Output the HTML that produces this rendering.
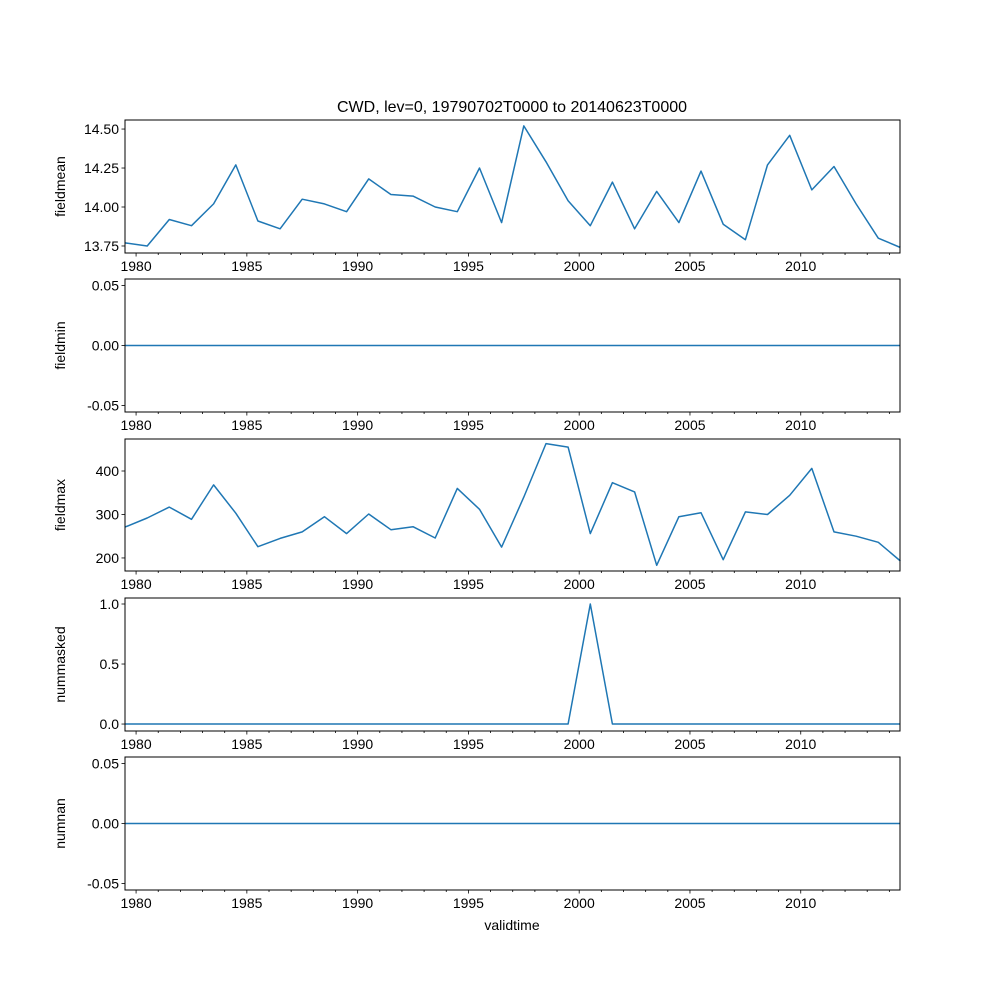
<!DOCTYPE html>
<html><head><meta charset="utf-8"><style>
body{margin:0;background:#fff;}
svg text{font-family:"Liberation Sans","DejaVu Sans",sans-serif;font-size:14px;fill:#000;}
</style></head><body>
<svg id="fig" width="1000" height="1000" viewBox="0 0 1000 1000" xmlns="http://www.w3.org/2000/svg">
<rect width="1000" height="1000" fill="#fff"/>
<text x="512" y="112" text-anchor="middle" style="font-size:16px">CWD, lev=0, 19790702T0000 to 20140623T0000</text>
<text x="512" y="930" text-anchor="middle">validtime</text>
</svg>
<script>
const years = [];
for (let k = 0; k < 36; k++) years.push(1979.5 + k);
const fieldmean = [13.77,13.75,13.92,13.88,14.02,14.27,13.91,13.86,14.05,14.02,13.97,14.18,14.08,14.07,14.00,13.97,14.25,13.90,14.52,14.29,14.04,13.88,14.16,13.86,14.10,13.90,14.23,13.89,13.79,14.27,14.46,14.11,14.26,14.02,13.80,13.74];
const fieldmin = new Array(36).fill(0);
const fieldmax = [271,292,317,289,368,303,226,245,260,295,256,301,265,272,246,360,312,225,340,463,455,256,373,352,183,295,304,196,306,300,344,406,260,250,236,193];
const nummasked = [0,0,0,0,0,0,0,0,0,0,0,0,0,0,0,0,0,0,0,0,0,1,0,0,0,0,0,0,0,0,0,0,0,0,0,0];
const numnan = new Array(36).fill(0);
const xTicks = [1980,1985,1990,1995,2000,2005,2010];
const panels = [
 {name:'fieldmean', data:fieldmean, top:120, bot:253, ymin:13.705, ymax:14.558, ticks:[13.75,14.00,14.25,14.50], fmt:v=>v.toFixed(2)},
 {name:'fieldmin', data:fieldmin, top:279, bot:412, ymin:-0.0555, ymax:0.0555, ticks:[-0.05,0,0.05], fmt:v=>v.toFixed(2)},
 {name:'fieldmax', data:fieldmax, top:439, bot:571, ymin:170, ymax:473.6, ticks:[200,300,400], fmt:v=>String(v)},
 {name:'nummasked', data:nummasked, top:598, bot:731, ymin:-0.058, ymax:1.05, ticks:[0,0.5,1], fmt:v=>v.toFixed(1)},
 {name:'numnan', data:numnan, top:757, bot:890, ymin:-0.0555, ymax:0.0555, ticks:[-0.05,0,0.05], fmt:v=>v.toFixed(2)}
];
const L=125,R=900,X0=1979.5,X1=2014.48;
const NS='http://www.w3.org/2000/svg';
const svg=document.getElementById('fig');
function mk(tag,attrs,parent){const e=document.createElementNS(NS,tag);for(const k in attrs)e.setAttribute(k,attrs[k]);(parent||svg).appendChild(e);return e;}
const xs=v=>L+(v-X0)/(X1-X0)*(R-L);
panels.forEach(p=>{
 const g=mk('g',{});
 
 
 const ys=v=>p.bot-(v-p.ymin)/(p.ymax-p.ymin)*(p.bot-p.top);
 const pts=p.data.map((v,i)=>xs(years[i]).toFixed(1)+','+ys(v).toFixed(1)).join(' ');
 const line=mk('polyline',{points:pts,fill:'none',stroke:'#1f77b4','stroke-width':1.5,'stroke-linejoin':'round'},g);
 
 
 mk('rect',{x:L,y:p.top,width:R-L,height:p.bot-p.top,fill:'none',stroke:'#000','stroke-width':1},g);
 for(let y=1980;y<=2014;y++){
  const x=xs(y);const major=xTicks.includes(y);
  mk('line',{x1:x,x2:x,y1:p.bot,y2:p.bot+(major?3.5:2),stroke:'#000','stroke-width':0.8},g);
  if(major){const t=mk('text',{x:x,y:p.bot+18,'text-anchor':'middle'},g);t.textContent=y;
   
   }
 }
 p.ticks.forEach(v=>{const y=ys(v);
  mk('line',{x1:L-3.5,x2:L,y1:y,y2:y,stroke:'#000','stroke-width':0.8},g);
  const t=mk('text',{x:L-6,y:y+5,'text-anchor':'end'},g);t.textContent=p.fmt(v);
  
  
 });
 const cy=(p.top+p.bot)/2;
 const yl=mk('text',{x:65,y:cy,'text-anchor':'middle',transform:'rotate(-90 65 '+cy+')'},g);
 yl.textContent=p.name;
 
 
});
</script>
</body></html>
